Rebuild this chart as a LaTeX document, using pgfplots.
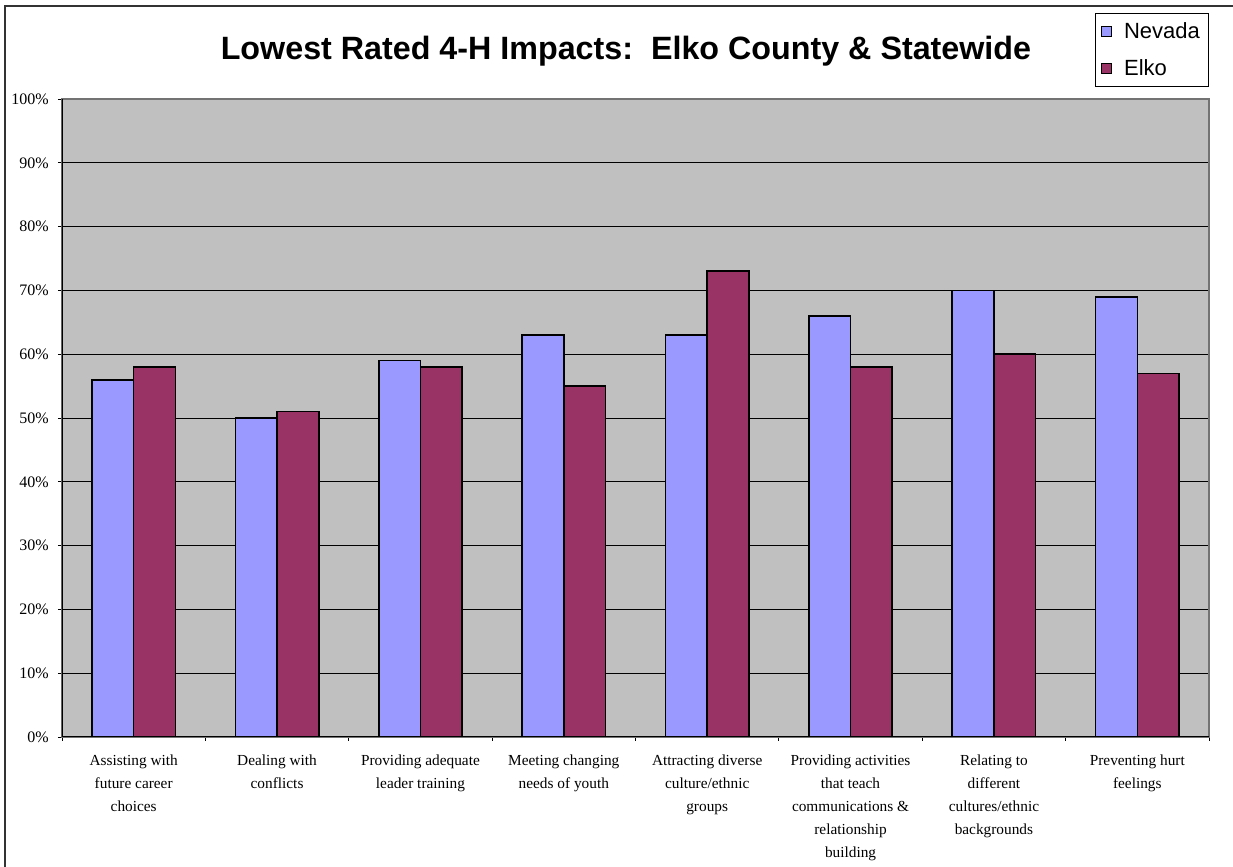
\documentclass[border=0pt]{standalone}
\usepackage{fontspec}
\setmainfont{Liberation Serif}
\setsansfont{Liberation Sans}
\usepackage{pgfplots}
\pgfplotsset{compat=1.18}
\definecolor{nev}{HTML}{9999FF}
\definecolor{elk}{HTML}{993366}
\definecolor{bg}{HTML}{C0C0C0}
\begin{document}
\begin{tikzpicture}
\useasboundingbox (-46.5pt,-97.5pt) rectangle (878.25pt,552.75pt);
\begin{axis}[
  at={(0,0)}, anchor=south west,
  scale only axis, width=860.25pt, height=478.5pt,
  xmin=-0.5, xmax=7.5, ymin=0, ymax=100,
  ybar=0pt, bar width=31.25pt,
  axis background/.style={fill=bg},
  axis line style={draw=black!55, line width=0.8pt},
  ytick={0,10,...,100},
  yticklabels={0\%,10\%,20\%,30\%,40\%,50\%,60\%,70\%,80\%,90\%,100\%},
  ymajorgrids, major grid style={black, line width=0.6pt},
  tick align=outside,
  major tick length=3pt, minor tick length=3pt,
  ytick style={black, line width=0.6pt},
  xtick={0,...,7},
  major x tick style={draw=none},
  minor xtick={-0.5,0.5,...,7.5},
  minor x tick style={black, line width=0.6pt},
  xtick pos=left, ytick pos=left,
  xticklabels={{Assisting with\\future career\\choices},{Dealing with\\conflicts},{Providing adequate\\leader training},{Meeting changing\\needs of youth},{Attracting diverse\\culture/ethnic\\groups},{Providing activities\\that teach\\communications \&\\relationship\\building},{Relating to\\different\\cultures/ethnic\\backgrounds},{Preventing hurt\\feelings}},
  xticklabel style={font=\fontsize{11.5}{17.25}\selectfont, align=center, anchor=north, yshift=-7pt},
  yticklabel style={font=\fontsize{12}{14}\selectfont, xshift=-3.5pt},
  title={Lowest Rated 4-H Impacts:\ \ Elko County \& Statewide},
  title style={font=\sffamily\bfseries\fontsize{24.2}{28}\selectfont, at={(0.4917,1.0611)}, anchor=base, yshift=-5.5pt},
  legend style={at={(1,1.1348)}, anchor=north east, draw=black, fill=white, line width=0.6pt,
    font=\sffamily\fontsize{16.5}{19}\selectfont, row sep=10.5pt, column sep=7pt,
    inner xsep=4.5pt, inner ysep=4.5pt},
  legend cell align=left,
  legend image code/.code={\draw[#1, line width=0.7pt] (0pt,-3.75pt) rectangle (7.5pt,3.75pt);},
]
\addplot[fill=nev, draw=black, line width=1.2pt] coordinates {(0,56) (1,50) (2,59) (3,63) (4,63) (5,66) (6,70) (7,69)};
\addplot[fill=elk, draw=black, line width=1.2pt] coordinates {(0,58) (1,51) (2,58) (3,55) (4,73) (5,58) (6,60) (7,57)};
\legend{Nevada, Elko}
\draw[black, line width=0.9pt] (rel axis cs:0,0) -- (rel axis cs:0,1);
\draw[black, line width=0.9pt] (rel axis cs:0,0) -- (rel axis cs:1,0);
\end{axis}
\draw[black!80, line width=1.5pt] (-42.75pt,-110pt) -- (-42.75pt,548.25pt) -- (900pt,548.25pt);
\end{tikzpicture}
\end{document}
